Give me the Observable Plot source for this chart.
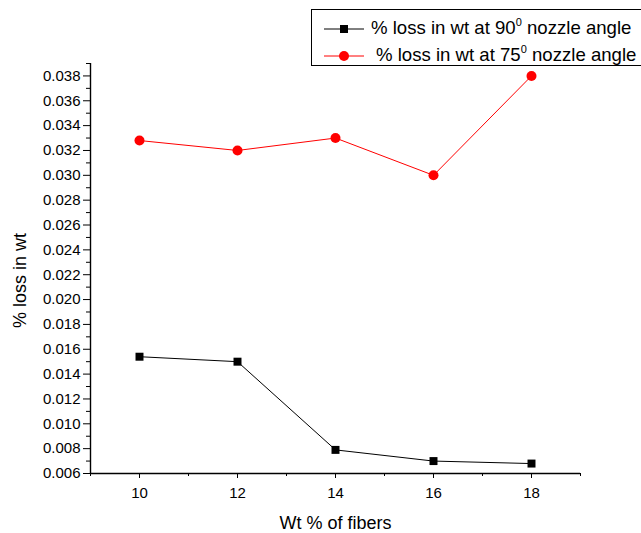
<!DOCTYPE html>
<html>
<head>
<meta charset="utf-8">
<script src="https://cdn.jsdelivr.net/npm/d3@7"></script>
<script src="https://cdn.jsdelivr.net/npm/@observablehq/plot@0.6"></script>
<style>
  html, body { margin: 0; padding: 0; background: #fff; overflow: hidden; }
  #wrap { position: relative; width: 641px; height: 533px; font-family: "Liberation Sans", Arial, sans-serif; }
  #legend { position: absolute; left: 311px; top: 9px; width: 340px; height: 57px; border: 1px solid #000; background: #fff; box-sizing: border-box; }
  .sym { position: absolute; left: 11px; display: block; }
  .lab { position: absolute; font-size: 18.6px; line-height: 20px; color: #000; white-space: nowrap; }
  sup { font-size: 11px; position: relative; top: -8px; vertical-align: baseline; line-height: 0; }
</style>
</head>
<body>
<div id="wrap"></div>
<script>
const fibers = [10, 12, 14, 16, 18];
const loss90 = [0.0154, 0.0150, 0.0079, 0.0070, 0.0068];
const loss75 = [0.0328, 0.0320, 0.0330, 0.0300, 0.0380];
const seriesNames = ["% loss in wt at 90", "% loss in wt at 75"];
const xMajor = [10, 12, 14, 16, 18];
const xMinor = [9, 11, 13, 15, 17, 19];
const yMajor = [0.006, 0.008, 0.010, 0.012, 0.014, 0.016, 0.018, 0.020, 0.022, 0.024, 0.026, 0.028, 0.030, 0.032, 0.034, 0.036, 0.038];
const yMinor = [0.007, 0.009, 0.011, 0.013, 0.015, 0.017, 0.019, 0.021, 0.023, 0.025, 0.027, 0.029, 0.031, 0.033, 0.035, 0.037, 0.039];
const xDomain = [9, 19];
const yDomain = [0.006, 0.039];

const d90 = fibers.map((f, i) => ({x: f, y: loss90[i]}));
const d75 = fibers.map((f, i) => ({x: f, y: loss75[i]}));

const chart = Plot.plot({
  width: 641,
  height: 533,
  marginLeft: 90,
  marginRight: 61,
  marginTop: 63,
  marginBottom: 60,
  style: {fontFamily: "'Liberation Sans', Arial, sans-serif", color: "#000", background: "#fff"},
  x: {domain: xDomain},
  y: {domain: yDomain},
  marks: [
    Plot.ruleX([xDomain[0]], {stroke: "#000", strokeWidth: 1.4}),
    Plot.ruleY([yDomain[0]], {stroke: "#000", strokeWidth: 1.4}),
    Plot.axisX(xMajor, {tickSize: 5, tickPadding: 9, fontSize: 15, tickFormat: d => String(d), label: "Wt % of fibers", labelAnchor: "center", labelArrow: "none", labelOffset: 55}),
    Plot.axisX(xMinor, {tickSize: 3, tickFormat: () => "", label: null}),
    Plot.axisY(yMajor, {tickSize: 7, tickPadding: 3, fontSize: 15, tickFormat: d3.format(".3f"), label: "% loss in wt", labelAnchor: "center", labelArrow: "none", labelOffset: 77}),
    Plot.axisY(yMinor, {tickSize: 4, tickFormat: () => "", label: null}),
    Plot.line(d90, {x: "x", y: "y", stroke: "#000", strokeWidth: 1}),
    Plot.line(d75, {x: "x", y: "y", stroke: "#ff0000", strokeWidth: 1}),
    Plot.dot(d90, {x: "x", y: "y", symbol: "square", r: 4.5, fill: "#000", stroke: "none"}),
    Plot.dot(d75, {x: "x", y: "y", symbol: "circle", r: 5, fill: "#ff0000", stroke: "none"})
  ]
});
// enlarge axis titles
chart.querySelectorAll('g[aria-label$="axis label"]').forEach(g => {
  g.setAttribute("font-size", "18");
  g.querySelectorAll("text").forEach(t => {
    t.setAttribute("font-size", "18");
    if (g.getAttribute("aria-label").startsWith("y")) t.setAttribute("dx", "-12");
  });
});
const wrap = document.getElementById("wrap");
wrap.appendChild(chart);

const legend = document.createElement("div");
legend.id = "legend";
legend.innerHTML = `
  <svg class="sym" style="top:13px" width="42" height="12"><line x1="1" y1="6" x2="41" y2="6" stroke="#000" stroke-width="1"/><rect x="17" y="2" width="8" height="8" fill="#000"/></svg>
  <div class="lab" style="left:59px; top:8px;">${seriesNames[0]}<sup>0</sup> nozzle angle</div>
  <svg class="sym" style="top:40px" width="42" height="12"><line x1="1" y1="6" x2="41" y2="6" stroke="#ff0000" stroke-width="1"/><circle cx="21" cy="6" r="5" fill="#ff0000"/></svg>
  <div class="lab" style="left:64px; top:35px;">${seriesNames[1]}<sup>0</sup> nozzle angle</div>`;
wrap.appendChild(legend);
</script>
</body>
</html>
